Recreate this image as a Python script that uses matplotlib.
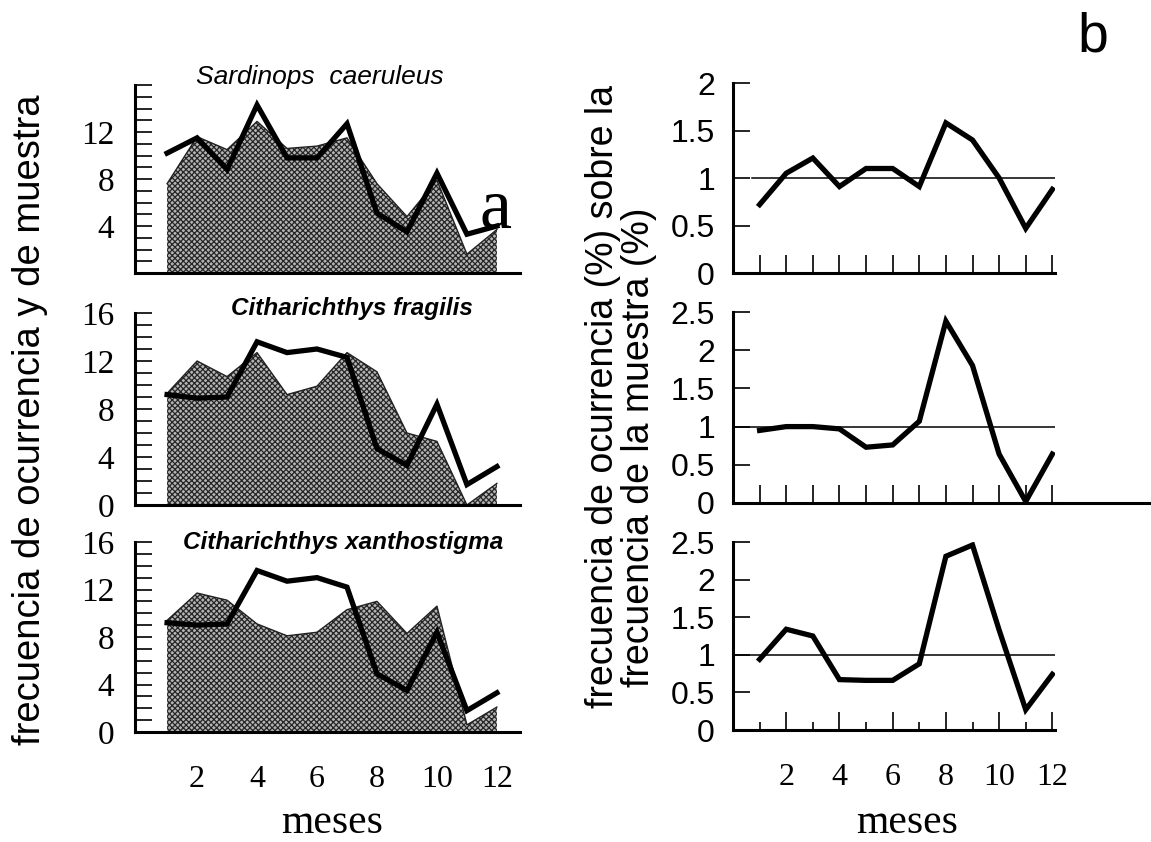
import matplotlib
matplotlib.use("Agg")
import matplotlib.pyplot as plt
from matplotlib.ticker import MultipleLocator, FixedLocator

plt.rcParams["hatch.linewidth"] = 0.9

months = list(range(1, 13))

# left panels: shaded = species occurrence (%), line = sample frequency (%)
species = ["Sardinops  caeruleus", "Citharichthys fragilis", "Citharichthys xanthostigma"]
title_weight = ["normal", "bold", "bold"]

occ_sardinops = [7.6, 11.6, 10.5, 12.9, 10.6, 10.8, 11.5, 7.6, 4.8, 7.9, 1.6, 3.7]
line_sardinops = [10.2, 11.5, 8.8, 14.3, 9.8, 9.8, 12.7, 5.1, 3.5, 8.5, 3.3, 4.0]

occ_fragilis = [9.3, 12.0, 10.7, 12.7, 9.2, 9.9, 12.7, 11.1, 6.0, 5.3, 0.0, 1.8]
line_fragilis = [9.2, 8.9, 9.0, 13.6, 12.7, 13.0, 12.3, 4.7, 3.3, 8.4, 1.7, 3.2]

occ_xantho = [9.4, 11.7, 11.1, 9.1, 8.1, 8.4, 10.3, 11.0, 8.3, 10.6, 0.6, 2.1]
line_xantho = [9.2, 9.0, 9.1, 13.6, 12.7, 13.0, 12.2, 4.9, 3.5, 8.4, 1.8, 3.3]

# right panels: ratio
ratio_sardinops = [0.72, 1.05, 1.21, 0.91, 1.10, 1.10, 0.91, 1.58, 1.40, 1.00, 0.47, 0.88]
ratio_fragilis = [0.95, 1.00, 1.00, 0.97, 0.73, 0.76, 1.07, 2.38, 1.80, 0.64, 0.02, 0.64]
ratio_xantho = [0.94, 1.34, 1.25, 0.67, 0.66, 0.66, 0.88, 2.31, 2.46, 1.33, 0.27, 0.74]

left_yticks = [[4, 8, 12], [0, 4, 8, 12, 16], [0, 4, 8, 12, 16]]
right_ylim = [2.0, 2.5, 2.5]
right_yticks = [[0, 0.5, 1, 1.5, 2], [0, 0.5, 1, 1.5, 2, 2.5], [0, 0.5, 1, 1.5, 2, 2.5]]
xtick_labels = [2, 4, 6, 8, 10, 12]

occ = [occ_sardinops, occ_fragilis, occ_xantho]
lines = [line_sardinops, line_fragilis, line_xantho]
ratios = [ratio_sardinops, ratio_fragilis, ratio_xantho]

W, H = 1151, 842
fig = plt.figure(figsize=(W / 100, H / 100), dpi=100)

def fr(x0, top, x1, bottom):
    return [x0 / W, 1 - bottom / H, (x1 - x0) / W, (bottom - top) / H]

left_boxes = [(135, 85, 520, 273), (135, 313, 520, 505), (135, 542, 520, 732)]
right_boxes = [(733, 83, 1055, 273), (733, 312, 1055, 503), (733, 542, 1055, 730)]
title_pos = [(320, 77), (352, 308), (343, 543)]
title_size = [19, 17.5, 17.5]

serif = "Liberation Serif"
sans = "Liberation Sans"

for i in range(3):
    ax = fig.add_axes(fr(*left_boxes[i]))
    ax.fill_between(months, occ[i], 0, facecolor="#b4b4b4", edgecolor="#262626",
                    hatch="xxxxxx", linewidth=0)
    ax.plot(months, occ[i], color="#222222", lw=1.0)
    ax.plot(months, lines[i], color="black", lw=3.8, solid_joinstyle="miter")
    ax.set_xlim(-0.07, 12.77)
    ax.set_ylim(0, 16)
    for s in ["top", "right"]:
        ax.spines[s].set_visible(False)
    for s in ["left", "bottom"]:
        ax.spines[s].set_linewidth(2.2)
    ax.yaxis.set_major_locator(FixedLocator(left_yticks[i]))
    ax.yaxis.set_minor_locator(MultipleLocator(1))
    ax.tick_params(axis="y", which="both", direction="in", length=12, width=1.2,
                   labelsize=24, pad=15)
    for lab in ax.get_yticklabels():
        lab.set_fontfamily(serif)
    tx, ty = title_pos[i]
    fig.text(tx / W, 1 - ty / H, species[i], ha="center", va="center",
             fontsize=title_size[i], style="italic", weight=title_weight[i], family=sans)
    if i == 2:
        ax.set_xticks(xtick_labels)
        ax.tick_params(axis="x", length=0, labelsize=23, pad=24)
        for lab in ax.get_xticklabels():
            lab.set_fontfamily(serif)
    else:
        ax.set_xticks([])

for i in range(3):
    ax = fig.add_axes(fr(*right_boxes[i]))
    ax.axhline(1.0, xmin=0.7 / 12.1 if i == 0 else 0.0, xmax=1.0, color="black", lw=1.1)
    ax.plot(months, ratios[i], color="black", lw=3.8, solid_joinstyle="miter")
    ax.set_xlim(0, 12.1)
    ax.set_ylim(0, right_ylim[i])
    for s in ["top", "right"]:
        ax.spines[s].set_visible(False)
    for s in ["left", "bottom"]:
        ax.spines[s].set_linewidth(2.2)
    ax.set_yticks(right_yticks[i])
    ax.set_yticklabels([("%g" % v) for v in right_yticks[i]], family=sans)
    ax.tick_params(axis="y", direction="in", length=12, width=1.2, labelsize=23, pad=13)
    if i == 1:
        ax.plot([12.1, 15.8], [0, 0], color="black", lw=2.2, clip_on=False)
    if i == 2:
        ax.set_xticks(xtick_labels)
        ax.set_xticks([1, 3, 5, 7, 9, 11], minor=True)
        ax.tick_params(axis="x", which="major", direction="in", length=13, width=1.2,
                       labelsize=23, pad=24)
        ax.tick_params(axis="x", which="minor", direction="in", length=6, width=1.2)
        for lab in ax.get_xticklabels():
            lab.set_fontfamily(serif)
    else:
        ax.set_xticks(months)
        ax.tick_params(axis="x", direction="in", length=13, width=1.2, labelbottom=False)

fig.text(332 / W, 1 - 823 / H, "meses", ha="center", va="center", fontsize=30, family=serif)
fig.text(907 / W, 1 - 823 / H, "meses", ha="center", va="center", fontsize=30, family=serif)

fig.text(30 / W, 1 - 420 / H, "frecuencia de ocurrencia y de muestra", rotation=90,
         ha="center", va="center", fontsize=27.5, family=sans)
fig.text(603 / W, 1 - 397 / H, "frecuencia de ocurrencia (%) sobre la", rotation=90,
         ha="center", va="center", fontsize=27, family=sans)
fig.text(639 / W, 1 - 447 / H, "frecuencia de la muestra (%)", rotation=90,
         ha="center", va="center", fontsize=27, family=sans)

fig.text(495 / W, 1 - 210 / H, "a", ha="center", va="center", fontsize=52, family=serif)
fig.text(1093 / W, 1 - 38 / H, "b", ha="center", va="center", fontsize=40, family=sans)

fig.savefig("out.png", dpi=100)
